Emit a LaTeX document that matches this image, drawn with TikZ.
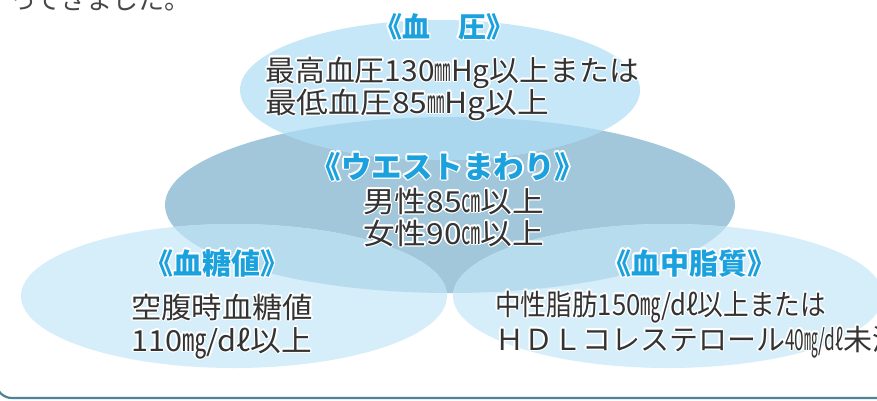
\documentclass[tikz,border=0pt]{standalone}
\usepackage{fontspec}
\usepackage{graphicx}
\usepackage{contour}
\newfontfamily\jp{Noto Sans CJK JP}
\contourlength{1.3pt}
\contournumber{16}
\newsavebox\fitbox
\newdimen\fitlen
% \fitf\macro{width}{text}: factor that scales text to width (pt)
\newcommand\fitf[3]{\sbox\fitbox{#3}\fitlen=\wd\fitbox\pgfmathsetmacro#1{#2/\fitlen}}
\newcommand\cfit[2]{\fitf\myfac{#1}{#2}\contour{white}{\scalebox{\myfac}[1]{#2}}}
\newcommand\uMM{\scalebox{0.55}[1.1]{㎜}}
\newcommand\uCM{\scalebox{0.6}[1.1]{㎝}}
\newcommand\uMG{\scalebox{0.8}[1.1]{㎎}}
\definecolor{topc}{HTML}{C6E7F8}
\definecolor{waistc}{HTML}{A2C7DB}
\definecolor{topwaistc}{HTML}{AAD7ED}
\definecolor{lowc}{HTML}{D6EEF9}
\definecolor{lowwaistc}{HTML}{B7DCEE}
\definecolor{titlec}{HTML}{1BA1DD}
\definecolor{bodyc}{HTML}{333333}
\definecolor{framec}{HTML}{4F8397}
\tikzset{
  ttl/.style={anchor=base, inner sep=0pt, text=titlec, font=\jp\bfseries\fontsize{29}{33}\selectfont},
  bd/.style={anchor=base west, inner sep=0pt, text=bodyc, font=\jp\fontsize{29}{33}\selectfont},
}
\begin{document}
\begin{tikzpicture}[x=1pt,y=-1pt]
\useasboundingbox (0,0) rectangle (877,400);
\clip (0,0) rectangle (877,400);
\fill[white] (0,0) rectangle (877,400);
% ellipses
\fill[waistc] (450,205) ellipse [x radius=285pt, y radius=88pt];
\fill[topc] (440,90) ellipse [x radius=200pt, y radius=70pt];
\begin{scope}
  \clip (440,90) ellipse [x radius=200pt, y radius=70pt];
  \fill[topwaistc] (450,205) ellipse [x radius=285pt, y radius=88pt];
\end{scope}
\fill[lowc] (234,296) ellipse [x radius=213pt, y radius=72pt];
\fill[lowc] (668,296) ellipse [x radius=215pt, y radius=72pt];
\begin{scope}
  \clip (450,205) ellipse [x radius=285pt, y radius=88pt];
  \fill[lowwaistc] (234,296) ellipse [x radius=213pt, y radius=72pt];
  \fill[lowwaistc] (668,296) ellipse [x radius=215pt, y radius=72pt];
\end{scope}
% frame
\draw[framec, line width=2.2pt, rounded corners=16pt] (-4,200) -- (-4,398) -- (890,398);
% intro text
\node[anchor=base west, inner sep=0pt, text=bodyc!90, font=\jp\fontsize{26}{30}\selectfont] (intro) at (10,9) {ってきました。};
% blood pressure
\node[ttl, font=\jp\bfseries\fontsize{28}{32}\selectfont] (bpt) at (444,37) {\contour{white}{《血　圧》}};
\node[bd] (bp1) at (265,81) {\cfit{374}{最高血圧130\uMM Hg以上または}};
\node[bd] (bp2) at (265,113) {\cfit{284}{最低血圧85\uMM Hg以上}};
% waist
\node[ttl, font=\jp\bfseries\fontsize{30.5}{34}\selectfont] (wt) at (448,178) {\contour{white}{《ウエストまわり》}};
\node[bd] (w1) at (363,212) {\cfit{181}{男性85\uCM 以上}};
\node[bd] (w2) at (363,244) {\cfit{181}{女性90\uCM 以上}};
% blood sugar
\node[ttl] (bst) at (217,274) {\contour{white}{《血糖値》}};
\node[bd] (bs1) at (131,318) {\cfit{182}{空腹時血糖値}};
\node[bd] (bs2) at (131,351) {\cfit{181}{110\uMG/dℓ以上}};
% lipids
\node[ttl] (lpt) at (689,274) {\contour{white}{《血中脂質》}};
\node[bd] (lp1) at (495,315) {\cfit{331}{中性脂肪150\uMG/dℓ以上または}};
\node[bd] (lp2) at (495,350) {\fitf\facA{290}{ＨＤＬコレステロール}\fitf\facB{58}{40\uMG/dℓ}\contour{white}{\scalebox{\facA}[1]{ＨＤＬコレステロール}\scalebox{\facB}[1]{40\uMG/dℓ}未満}};
\end{tikzpicture}
\end{document}
